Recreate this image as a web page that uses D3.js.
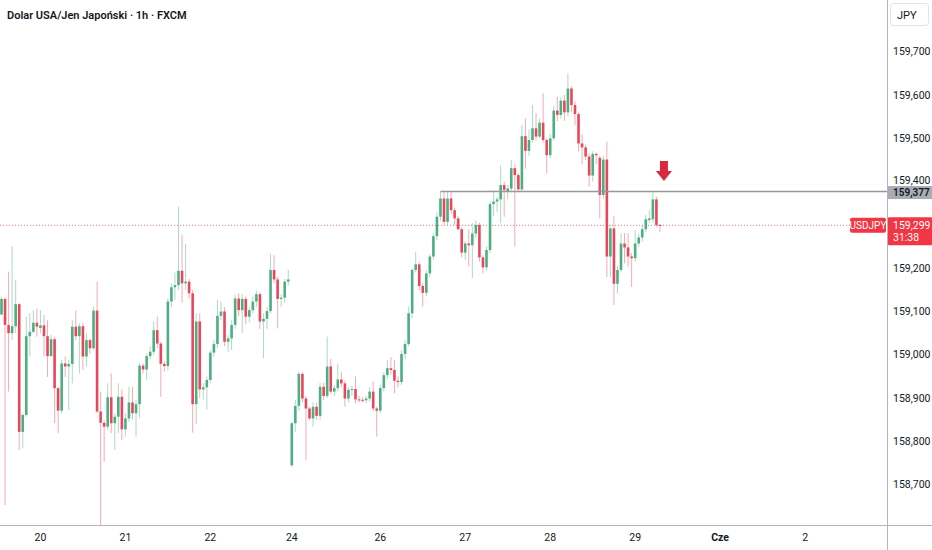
<!DOCTYPE html>
<html><head><meta charset="utf-8">
<script src="https://cdn.jsdelivr.net/npm/d3@7"></script>
<style>
html,body{margin:0;padding:0;background:#fff;}
svg{display:block;font-family:Roboto,"Noto Sans",sans-serif;}
</style></head>
<body><svg id="c" width="932" height="550"></svg>
<script>
// ---- data (USD/JPY, 1h candles) ----
const opens = [159.093,159.129,159.069,159.050,159.066,159.117,158.822,158.861,159.043,159.053,159.074,159.062,159.068,159.043,158.997,159.036,158.923,158.871,158.980,158.973,158.979,159.065,159.043,159.066,158.996,159.034,159.015,159.102,158.869,158.843,158.834,158.902,158.842,158.857,158.903,158.828,158.853,158.890,158.865,158.886,158.975,158.966,158.997,159.007,159.057,159.026,158.979,158.974,159.123,159.156,159.161,159.194,159.165,159.169,159.142,158.886,159.077,158.920,158.925,158.942,159.005,159.025,159.090,159.100,159.030,159.038,159.069,159.130,159.103,159.129,159.088,159.103,159.123,159.140,159.077,159.083,159.101,159.196,159.174,159.129,159.132,159.169,158.745,158.842,158.882,158.956,158.899,158.876,158.853,158.880,158.859,158.926,158.905,158.973,158.915,158.923,158.943,158.934,158.899,158.919,158.921,158.897,158.896,158.895,158.899,158.915,158.876,158.871,158.923,158.953,158.969,158.965,158.940,158.937,159.002,159.025,159.096,159.196,159.209,159.159,159.143,159.188,159.227,159.274,159.319,159.361,159.307,159.361,159.334,159.315,159.290,159.236,159.257,159.253,159.280,159.300,159.225,159.202,159.242,159.348,159.354,159.359,159.392,159.376,159.384,159.431,159.415,159.382,159.505,159.471,159.496,159.523,159.504,159.536,159.496,159.461,159.500,159.564,159.554,159.587,159.560,159.615,159.577,159.556,159.488,159.479,159.458,159.414,159.464,159.455,159.369,159.451,159.227,159.292,159.164,159.196,159.257,159.248,159.227,159.223,159.257,159.271,159.290,159.311,159.313,159.359,159.300];
const highs = [159.134,159.132,159.192,159.250,159.173,159.119,158.865,159.088,159.096,159.103,159.107,159.103,159.092,159.080,159.046,159.042,158.926,158.988,158.996,158.988,159.080,159.103,159.073,159.073,159.050,159.038,159.111,159.169,158.915,158.849,158.934,158.957,158.865,158.934,158.920,158.865,158.926,158.926,158.896,158.980,158.980,159.003,159.019,159.077,159.088,159.030,158.985,159.130,159.165,159.190,159.342,159.277,159.257,159.175,159.150,159.096,159.096,158.935,158.950,159.010,159.035,159.127,159.123,159.110,159.045,159.080,159.138,159.142,159.140,159.135,159.110,159.135,159.148,159.145,159.095,159.110,159.233,159.230,159.180,159.140,159.175,159.196,158.845,158.896,158.961,158.960,158.905,158.880,158.890,158.890,158.935,158.935,159.042,158.990,158.930,158.980,158.961,158.940,158.925,158.928,158.950,158.905,158.902,158.905,158.925,158.938,158.880,158.930,158.960,158.988,158.995,158.988,158.950,159.010,159.035,159.111,159.200,159.238,159.215,159.165,159.195,159.232,159.280,159.330,159.377,159.377,159.377,159.377,159.340,159.320,159.295,159.262,159.290,159.304,159.310,159.305,159.230,159.250,159.354,159.380,159.365,159.438,159.400,159.392,159.450,159.440,159.420,159.531,159.546,159.520,159.577,159.558,159.545,159.604,159.500,159.510,159.575,159.596,159.595,159.600,159.650,159.620,159.585,159.560,159.510,159.485,159.465,159.470,159.467,159.458,159.460,159.492,159.300,159.321,159.205,159.281,159.281,159.281,159.235,159.288,159.280,159.300,159.323,159.334,159.377,159.365,159.302];
const lows = [159.092,158.653,158.915,159.034,159.050,158.780,158.784,158.857,158.996,159.050,159.042,159.050,158.996,158.949,158.996,158.842,158.819,158.865,158.949,158.873,158.934,159.034,158.957,158.965,158.973,159.003,159.011,158.865,158.607,158.753,158.826,158.819,158.780,158.819,158.803,158.811,158.845,158.850,158.811,158.853,158.957,158.942,158.990,159.000,159.015,158.903,158.961,158.965,159.110,159.127,159.150,159.120,159.150,159.130,158.820,158.840,158.900,158.896,158.873,158.935,158.995,159.015,159.080,159.020,159.007,159.011,159.060,159.090,159.050,159.070,159.075,159.095,159.110,159.060,158.992,159.060,159.095,159.165,159.061,159.110,159.120,159.160,158.740,158.822,158.870,158.890,158.757,158.849,158.834,158.850,158.850,158.895,158.900,158.910,158.905,158.915,158.925,158.880,158.890,158.905,158.888,158.890,158.890,158.888,158.892,158.870,158.811,158.865,158.915,158.945,158.955,158.911,158.925,158.930,158.990,159.020,159.085,159.190,159.150,159.111,159.135,159.180,159.220,159.265,159.310,159.300,159.300,159.325,159.300,159.288,159.225,159.219,159.204,159.177,159.270,159.215,159.188,159.195,159.235,159.320,159.330,159.304,159.319,159.360,159.375,159.250,159.375,159.378,159.430,159.460,159.490,159.495,159.500,159.490,159.419,159.455,159.495,159.540,159.545,159.540,159.550,159.560,159.530,159.470,159.440,159.450,159.388,159.400,159.440,159.315,159.360,159.180,159.180,159.115,159.142,159.190,159.211,159.204,159.157,159.215,159.250,159.262,159.283,159.305,159.305,159.295,159.284];
const closes = [159.129,159.069,159.050,159.066,159.117,158.822,158.861,159.043,159.053,159.074,159.065,159.068,159.043,158.997,159.036,158.923,158.871,158.980,158.973,158.979,159.065,159.043,159.066,158.996,159.034,159.015,159.102,158.869,158.843,158.834,158.902,158.842,158.857,158.903,158.828,158.853,158.890,158.865,158.886,158.975,158.966,158.997,159.007,159.057,159.026,158.979,158.974,159.123,159.156,159.161,159.194,159.165,159.169,159.142,158.886,159.077,158.920,158.925,158.942,159.005,159.025,159.090,159.100,159.030,159.038,159.069,159.130,159.103,159.129,159.088,159.103,159.123,159.140,159.077,159.083,159.101,159.196,159.174,159.129,159.132,159.169,159.174,158.842,158.882,158.956,158.899,158.876,158.853,158.880,158.859,158.926,158.905,158.973,158.915,158.923,158.943,158.934,158.899,158.919,158.921,158.897,158.896,158.895,158.899,158.915,158.876,158.871,158.923,158.953,158.969,158.965,158.940,158.937,159.002,159.025,159.096,159.196,159.209,159.159,159.143,159.188,159.227,159.274,159.319,159.361,159.307,159.361,159.334,159.315,159.290,159.236,159.257,159.253,159.280,159.300,159.225,159.202,159.242,159.348,159.354,159.359,159.392,159.381,159.384,159.431,159.415,159.382,159.505,159.471,159.496,159.523,159.504,159.536,159.496,159.461,159.500,159.564,159.554,159.587,159.560,159.615,159.577,159.556,159.488,159.479,159.458,159.414,159.464,159.461,159.369,159.451,159.227,159.292,159.164,159.196,159.257,159.248,159.227,159.223,159.257,159.271,159.290,159.313,159.315,159.359,159.300,159.299];

const dayTickIndex = [11,35,59,82,107,131,155,179,203,227];
const dayTickLabels = ["20","21","22","24","26","27","28","29","Cze","2"];
const boldTicks = ["Cze"];
const priceTicks = [158.7,158.8,158.9,159.0,159.1,159.2,159.3,159.4,159.5,159.6,159.7];
const levelPrice = 159.377;
const levelStartIndex = 124;
const lastPrice = 159.299;
const countdown = "31:38";
const symbol = "USDJPY";
const currency = "JPY";
const title = "Dolar USA/Jen Japoński · 1h · FXCM";

// ---- layout ----
const W = 932, H = 550, plotR = 887, plotB = 525;
const UP = "#4caf82", DOWN = "#e8475b";
const svg = d3.select("#c");
const x = d3.scaleLinear().domain([0, 227]).range([1.5, 805.1]);
const y = d3.scaleLinear().domain([158.7, 159.7]).range([484.7, 51.7]);
const fmt = d3.formatLocale({decimal: ",", thousands: " ", grouping: [3], currency: ["", ""]}).format(".3f");

svg.append("rect").attr("width", W).attr("height", H).attr("fill", "#fff");
svg.append("defs").append("clipPath").attr("id", "plot")
  .append("rect").attr("x", 0).attr("y", 0).attr("width", plotR).attr("height", plotB);

const candles = d3.range(opens.length).map(i => ({i, o: opens[i], h: highs[i], l: lows[i], c: closes[i]}));
const g = svg.append("g").attr("clip-path", "url(#plot)");

// last-price dotted line
g.append("line").attr("x1", 0).attr("x2", plotR)
  .attr("y1", y(lastPrice)).attr("y2", y(lastPrice))
  .attr("stroke", "#f23645").attr("stroke-width", 1).attr("stroke-dasharray", "1,2").attr("opacity", 0.7);

// wicks
g.selectAll("line.wick").data(candles).join("line").attr("class", "wick")
  .attr("x1", d => x(d.i)).attr("x2", d => x(d.i))
  .attr("y1", d => y(d.h)).attr("y2", d => y(d.l))
  .attr("stroke", d => d.c >= d.o ? UP : DOWN).attr("stroke-width", 1).attr("opacity", 0.45);

// bodies
g.selectAll("rect.body").data(candles).join("rect").attr("class", "body")
  .attr("x", d => x(d.i) - 1.3).attr("width", 2.6)
  .attr("y", d => y(Math.max(d.o, d.c)))
  .attr("height", d => Math.max(1, Math.abs(y(d.o) - y(d.c))))
  .attr("fill", d => d.c >= d.o ? UP : DOWN);

// horizontal level line
g.append("line").attr("x1", x(levelStartIndex)).attr("x2", plotR)
  .attr("y1", y(levelPrice)).attr("y2", y(levelPrice))
  .attr("stroke", "#9598a1").attr("stroke-width", 1.5);

// arrow marker
const ax = x(186) + 4, ay = y(levelPrice) - 10.5;
svg.append("path")
  .attr("d", `M${ax-4},${ay-20} L${ax+4},${ay-20} L${ax+4},${ay-10} L${ax+8},${ay-10} L${ax},${ay} L${ax-8},${ay-10} L${ax-4},${ay-10} Z`)
  .attr("fill", "#d9283d");

// axes frame
svg.append("line").attr("x1", 0).attr("x2", W).attr("y1", plotB + 0.5).attr("y2", plotB + 0.5)
  .attr("stroke", "#b2b5be").attr("stroke-width", 1);
svg.append("line").attr("x1", plotR + 0.5).attr("x2", plotR + 0.5).attr("y1", 0).attr("y2", H)
  .attr("stroke", "#b2b5be").attr("stroke-width", 1);

// price axis labels
svg.selectAll("text.ptick").data(priceTicks).join("text").attr("class", "ptick")
  .attr("x", 893).attr("y", d => y(d) - (d === 159.4 ? 1.5 : 0)).attr("dominant-baseline", "central")
  .attr("font-size", 10.5).attr("fill", "#131722").text(d => fmt(d));

// time axis labels
svg.selectAll("text.ttick").data(dayTickIndex).join("text").attr("class", "ttick")
  .attr("x", d => x(d)).attr("y", 537).attr("dominant-baseline", "central").attr("text-anchor", "middle")
  .attr("font-size", 10.5).attr("fill", "#131722")
  .attr("font-weight", (d, k) => boldTicks.includes(dayTickLabels[k]) ? 700 : 400)
  .text((d, k) => dayTickLabels[k]);

// currency box
svg.append("rect").attr("x", 890.5).attr("y", 3.5).attr("width", 38).attr("height", 22).attr("rx", 3)
  .attr("fill", "#fff").attr("stroke", "#e0e3eb");
svg.append("text").attr("x", 897).attr("y", 15).attr("dominant-baseline", "central")
  .attr("font-size", 11).attr("fill", "#131722").text(currency);

// level label
svg.append("rect").attr("x", 888).attr("y", y(levelPrice) - 5.5).attr("width", 44).attr("height", 13).attr("fill", "#a9acb4");
svg.append("text").attr("x", 893).attr("y", y(levelPrice) + 1).attr("dominant-baseline", "central")
  .attr("font-size", 10).attr("font-weight", 600).attr("fill", "#131722").text(fmt(levelPrice));

// last price label
svg.append("rect").attr("x", 888).attr("y", y(lastPrice) - 8).attr("width", 44).attr("height", 28).attr("rx", 1).attr("fill", "#f23645");
svg.append("text").attr("x", 893).attr("y", y(lastPrice)).attr("dominant-baseline", "central")
  .attr("font-size", 10.5).attr("fill", "#fff").text(fmt(lastPrice));
svg.append("text").attr("x", 893).attr("y", y(lastPrice) + 12).attr("dominant-baseline", "central")
  .attr("font-size", 10.5).attr("fill", "#fff").text(countdown);
svg.append("rect").attr("x", 850).attr("y", y(lastPrice) - 7.5).attr("width", 36).attr("height", 15).attr("rx", 2).attr("fill", "#f23645");
svg.append("text").attr("x", 868).attr("y", y(lastPrice)).attr("dominant-baseline", "central").attr("text-anchor", "middle")
  .attr("font-size", 10).attr("fill", "#fff").text(symbol);

// title
svg.append("text").attr("x", 7).attr("y", 15).attr("dominant-baseline", "central")
  .attr("font-size", 11).attr("font-weight", 600).attr("fill", "#131722").text(title);
</script></body></html>
